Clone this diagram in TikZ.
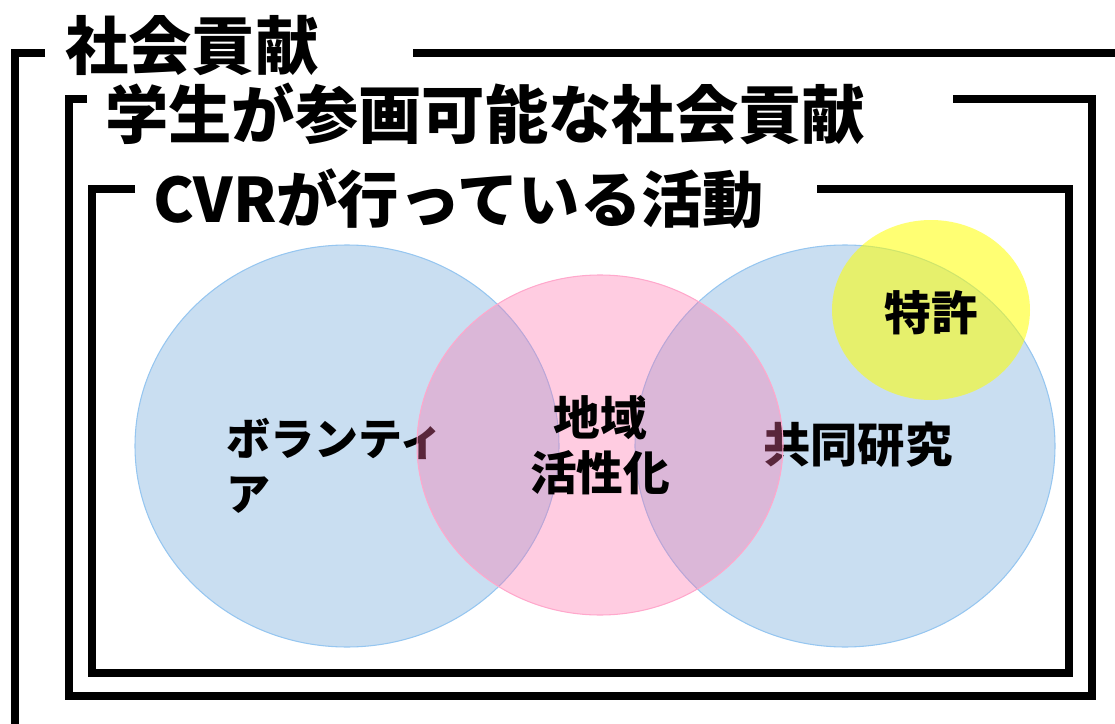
\documentclass[tikz,border=0pt]{standalone}
\usepackage{fontspec}
\newfontfamily\cjk{Noto Sans CJK JP}
\usetikzlibrary{shapes.geometric}

\definecolor{vblue}{RGB}{91,155,213}
\definecolor{vblueline}{RGB}{150,198,240}
\definecolor{vpink}{RGB}{255,110,170}
\definecolor{vyellow}{RGB}{255,255,0}

\begin{document}
\begin{tikzpicture}
[x=0.75pt,y=-0.75pt,
frame/.style={line width=6pt,black},
title/.style={anchor=west,inner sep=0pt,font=\cjk\bfseries\fontsize{47.5}{54}\selectfont},
label text/.style={inner sep=0pt,align=left,font=\cjk\bfseries\fontsize{35}{41}\selectfont},
blue circle/.style={ellipse,inner sep=0pt,draw=vblueline,line width=0.8pt,fill=vblue,fill opacity=0.33},
pink circle/.style={ellipse,inner sep=0pt,draw=vpink!60,line width=0.8pt,fill=vpink,fill opacity=0.35},
yellow circle/.style={ellipse,inner sep=0pt,fill=vyellow,fill opacity=0.55}]

\useasboundingbox (0,0) rectangle (1115,724);

% frames
\draw [frame] (45,53) -| (15,760);
\draw [frame] (413,53) -- (1140,53);
\draw [frame] (87,99) -| (69,696) -| (1092,99) -- (953,99);
\draw [frame] (135,189) -| (92,673) -| (1069,189) -- (817,189);

% titles
\node [title] (t1) at (65,46) {社会貢献};
\node [title] (t2) at (105,114) {学生が参画可能な社会貢献};
\node [title,font=\cjk\bfseries\fontsize{46}{54}\selectfont] (t3) at (153,199) {CVRが行っている活動};

% circles
\node [blue circle,minimum width=318pt,minimum height=301.5pt] (vol) at (347,446) {};
\node [blue circle,minimum width=315pt,minimum height=301.5pt] (res) at (845,446) {};
\node [label text,anchor=north west,font=\cjk\bfseries\fontsize{33}{41}\selectfont] (lvol) at (226,418) {ボランティ\\ア};
\node [label text,anchor=west,font=\cjk\bfseries\fontsize{35.5}{41}\selectfont] (lres) at (763,445) {共同研究};
\node [pink circle,minimum width=274.5pt,minimum height=255pt] (reg) at (600,445) {};
\node [label text,align=center] (lreg) at (600,445) {地域\\活性化};
\node [yellow circle,minimum width=148.5pt,minimum height=135pt] (pat) at (931,310) {};
\node [label text] (lpat) at (931,313) {特許};
\end{tikzpicture}
\end{document}
